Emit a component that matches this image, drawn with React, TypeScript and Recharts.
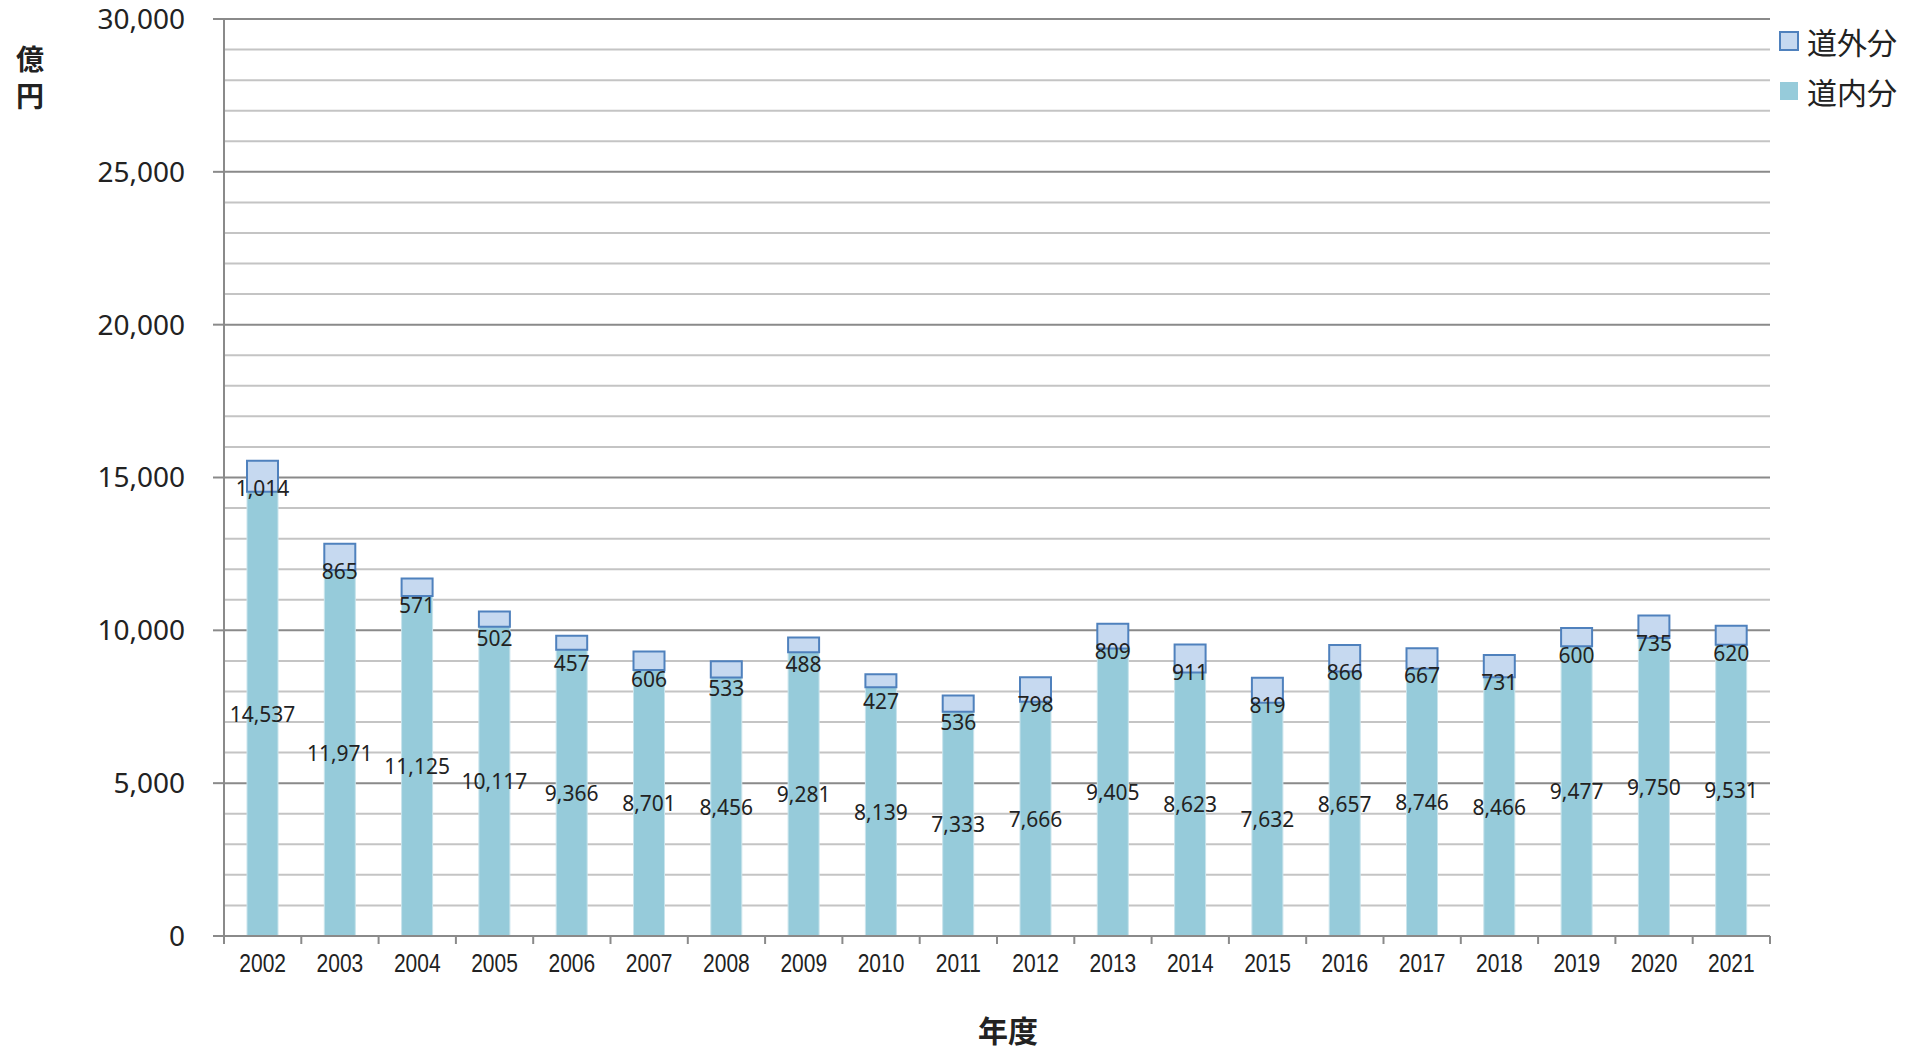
import { Bar, BarChart, CartesianGrid, LabelList, XAxis, YAxis } from "recharts";

// 年度別 道内分 / 道外分 (億円)
const years = [
  "2002", "2003", "2004", "2005", "2006", "2007", "2008", "2009", "2010", "2011",
  "2012", "2013", "2014", "2015", "2016", "2017", "2018", "2019", "2020", "2021",
];
const insideValues = [
  14537, 11971, 11125, 10117, 9366, 8701, 8456, 9281, 8139, 7333,
  7666, 9405, 8623, 7632, 8657, 8746, 8466, 9477, 9750, 9531,
];
const outsideValues = [
  1014, 865, 571, 502, 457, 606, 533, 488, 427, 536,
  798, 809, 911, 819, 866, 667, 731, 600, 735, 620,
];
const yTicks = [0, 5000, 10000, 15000, 20000, 25000, 30000];

const INSIDE_NAME = "道内分";
const OUTSIDE_NAME = "道外分";

const INSIDE_FILL = "#96cbda";
const OUTSIDE_FILL = "#c6d9f0";
const OUTSIDE_STROKE = "#4f81bd";
const AXIS_GREY = "#8a8a8a";
const TEXT = "#222";
const NUM_FONT = "'Noto Sans', 'Open Sans', sans-serif";
const NARROW_FONT = "'Liberation Sans', Arial, sans-serif";
const CJK_FONT = "'Noto Sans CJK JP', sans-serif";

const data = years.map((year, i) => ({
  year,
  inside: insideValues[i],
  outside: outsideValues[i],
}));

// light lines every 1,000; heavier ones on the labelled ticks
const minorLines = Array.from({ length: 31 }, (_, i) => i * 1000).filter((v) => v % 5000 !== 0);

const fmt = (v: number) => v.toLocaleString("en-US");

function InsideLabel(props: any) {
  const { x, y, width, height, value } = props;
  return (
    <text x={x + width / 2} y={y + height / 2} textAnchor="middle" dominantBaseline="central"
      fontSize={21} fill={TEXT} fontFamily={NUM_FONT}>
      {fmt(value)}
    </text>
  );
}

// hangs a fixed distance below the top of the small box
function OutsideLabel(props: any) {
  const { x, y, width, value } = props;
  return (
    <text x={x + width / 2} y={y + 27} textAnchor="middle" dominantBaseline="central"
      fontSize={21} fill={TEXT} fontFamily={NUM_FONT}>
      {fmt(value)}
    </text>
  );
}

// year label (squeezed narrow) plus tick marks on the category boundaries
function YearTick(props: any) {
  const { x, y, payload, index, visibleTicksCount } = props;
  const half = payload?.offset ?? 38.65;
  const top = y - 8;
  return (
    <g>
      <line x1={x - half} x2={x - half} y1={top} y2={top + 8} stroke={AXIS_GREY} strokeWidth={2} />
      {index === visibleTicksCount - 1 && (
        <line x1={x + half} x2={x + half} y1={top} y2={top + 8} stroke={AXIS_GREY} strokeWidth={2} />
      )}
      <text transform={`translate(${x},${top + 27}) scale(0.84,1)`} textAnchor="middle"
        dominantBaseline="central" fontSize={25} fill={TEXT} fontFamily={NARROW_FONT}>
        {payload.value}
      </text>
    </g>
  );
}

function LegendBox() {
  const items = [
    { name: OUTSIDE_NAME, fill: OUTSIDE_FILL, stroke: OUTSIDE_STROKE },
    { name: INSIDE_NAME, fill: INSIDE_FILL, stroke: "none" },
  ];
  return (
    <div style={{ position: "absolute", left: 1779, top: 21, display: "flex", flexDirection: "column", gap: 11 }}>
      {items.map((it) => (
        <div key={it.name} style={{ display: "flex", alignItems: "center", height: 39 }}>
          <svg width={20} height={20} style={{ marginRight: 8 }}>
            <rect x={1} y={1} width={18} height={18} fill={it.fill}
              stroke={it.stroke} strokeWidth={it.stroke === "none" ? 0 : 2} />
          </svg>
          <span style={{ fontFamily: CJK_FONT, fontSize: 30, color: TEXT, lineHeight: 1 }}>{it.name}</span>
        </div>
      ))}
    </div>
  );
}

export default function App() {
  const unitStyle = {
    position: "absolute" as const, left: 14, width: 32, fontFamily: CJK_FONT, fontWeight: 700,
    fontSize: 28, lineHeight: "30px", color: TEXT, textAlign: "center" as const,
  };
  return (
    <div style={{ position: "absolute", left: 0, top: 0, width: 1926, height: 1052, background: "#fff" }}>
      <BarChart width={1926} height={1052} data={data}
        margin={{ top: 19, right: 156, bottom: 0, left: 0 }} barSize={31}>
        <CartesianGrid vertical={false} horizontalValues={minorLines} stroke="#c4c4c4" strokeWidth={2} />
        <CartesianGrid vertical={false} horizontalValues={yTicks} stroke={AXIS_GREY} strokeWidth={2} />
        <XAxis dataKey="year" height={116} interval={0} tickLine={false} tick={<YearTick />}
          axisLine={{ stroke: AXIS_GREY, strokeWidth: 2 }} />
        <YAxis width={224} domain={[0, 30000]} ticks={yTicks} interval={0} tickSize={11} tickMargin={28}
          tickFormatter={fmt} tick={{ fontSize: 28, fill: TEXT, fontFamily: NUM_FONT }}
          tickLine={{ stroke: AXIS_GREY, strokeWidth: 2 }} axisLine={{ stroke: AXIS_GREY, strokeWidth: 2 }} />
        <Bar dataKey="inside" name={INSIDE_NAME} stackId="total" fill={INSIDE_FILL}
          stroke="#c9e4ec" strokeWidth={1} isAnimationActive={false}>
          <LabelList dataKey="inside" content={<InsideLabel />} />
        </Bar>
        <Bar dataKey="outside" name={OUTSIDE_NAME} stackId="total" fill={OUTSIDE_FILL}
          stroke={OUTSIDE_STROKE} strokeWidth={2} isAnimationActive={false}>
          <LabelList dataKey="outside" content={<OutsideLabel />} />
        </Bar>
      </BarChart>
      <LegendBox />
      <div style={{ ...unitStyle, top: 43 }}>億</div>
      <div style={{ ...unitStyle, top: 80 }}>円</div>
      <div style={{ position: "absolute", left: 908, top: 1009, width: 200, fontFamily: CJK_FONT,
        fontWeight: 700, fontSize: 30, lineHeight: "40px", color: TEXT, textAlign: "center" }}>
        年度
      </div>
    </div>
  );
}
